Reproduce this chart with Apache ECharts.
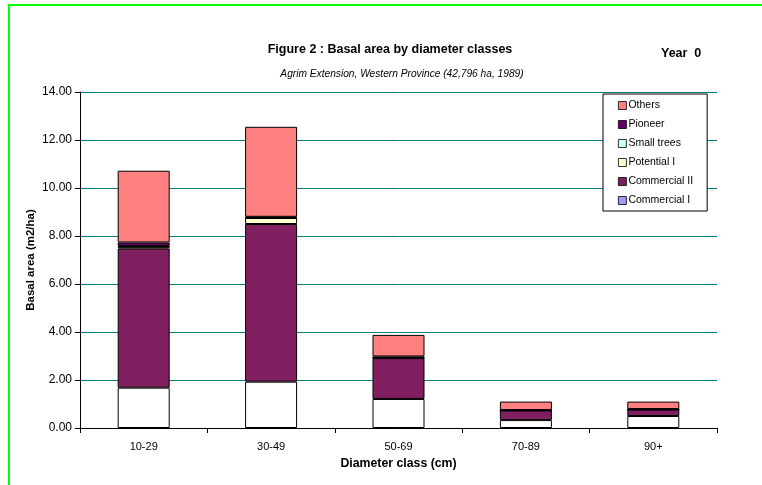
<!DOCTYPE html>
<html>
<head>
<meta charset="utf-8">
<script src="https://cdn.jsdelivr.net/npm/echarts@6/dist/echarts.min.js"></script>
<style>
  html, body { margin: 0; padding: 0; background: #fff; }
  #frame { position: absolute; left: 8px; top: 4px; width: 760px; height: 490px;
           border-left: 2px solid #00ff00; border-top: 2px solid #00ff00; box-sizing: border-box; }
  #chart { position: absolute; left: 0; top: 0; width: 762px; height: 485px; }
</style>
</head>
<body>
<div id="frame"></div>
<div id="chart"></div>
<script>
// Diameter classes (cm)
const categories = ['10-29', '30-49', '50-69', '70-89', '90+'];

// Basal area per species group (m2/ha), stacked bottom to top
const commercialI  = [1.68, 1.93, 1.21, 0.33, 0.50];
const commercialII = [5.80, 6.57, 1.70, 0.40, 0.27];
const potentialI   = [0.07, 0.25, 0.02, 0.00, 0.00];
const smallTrees   = [0.03, 0.02, 0.00, 0.00, 0.00];
const pioneer      = [0.15, 0.03, 0.05, 0.02, 0.02];
const others       = [2.99, 3.75, 0.90, 0.35, 0.31];

const legendOrder = ['Others', 'Pioneer', 'Small trees', 'Potential I', 'Commercial II', 'Commercial I'];

const FONT = '"Liberation Sans", Arial, sans-serif';

function stackSeries(name, data, fill) {
  return {
    name: name,
    type: 'bar',
    stack: 'basal',
    data: data,
    barWidth: 52,
    itemStyle: { color: fill, borderColor: '#000', borderWidth: 1 },
    emphasis: { disabled: true }
  };
}

const chart = echarts.init(document.getElementById('chart'), null, { renderer: 'canvas' });
chart.setOption({
  animation: false,
  backgroundColor: 'transparent',
  textStyle: { fontFamily: FONT },
  title: [
    { text: 'Figure 2 : Basal area by diameter classes', left: 385, top: 38, textAlign: 'center',
      textStyle: { fontFamily: FONT, fontSize: 12.5, fontWeight: 'bold', color: '#000' } },
    { text: 'Agrim Extension, Western Province (42,796 ha, 1989)', left: 397, top: 64, textAlign: 'center',
      textStyle: { fontFamily: FONT, fontSize: 10.2, fontStyle: 'italic', fontWeight: 'normal', color: '#000' } },
    { text: 'Year  0', left: 656, top: 42,
      textStyle: { fontFamily: FONT, fontSize: 12.5, fontWeight: 'bold', color: '#000' } }
  ],
  legend: {
    orient: 'vertical',
    left: 603,
    top: 94,
    icon: 'rect',
    itemWidth: 8,
    itemHeight: 8,
    itemGap: 8,
    padding: [6, 14, 5, 15],
    backgroundColor: '#fff',
    borderColor: '#000',
    borderWidth: 1,
    borderRadius: 0,
    itemStyle: { borderColor: '#000', borderWidth: 0.8 },
    textStyle: { fontFamily: FONT, fontSize: 10.5, color: '#000', lineHeight: 11, padding: [0, 0, 0, -3] },
    data: legendOrder.map(n => n === 'Commercial I'
      ? { name: n, itemStyle: { color: '#9999ff', borderColor: '#000', borderWidth: 0.8 } }
      : { name: n })
  },
  grid: { left: 80, right: 45, top: 92, bottom: 57, containLabel: false },
  xAxis: {
    type: 'category',
    data: categories,
    name: 'Diameter class (cm)',
    nameLocation: 'middle',
    nameGap: 30,
    nameTextStyle: { fontFamily: FONT, fontSize: 12.3, fontWeight: 'bold', color: '#000' },
    axisLine: { lineStyle: { color: '#000', width: 1 } },
    axisTick: { show: true, length: 5, lineStyle: { color: '#000' } },
    axisLabel: { fontFamily: FONT, fontSize: 11, color: '#000', margin: 13 }
  },
  yAxis: {
    type: 'value',
    min: 0,
    max: 14,
    interval: 2,
    name: 'Basal area (m2/ha)',
    nameLocation: 'middle',
    nameGap: 43,
    nameMoveOverlap: false,
    nameTextStyle: { fontFamily: FONT, fontSize: 11.5, fontWeight: 'bold', color: '#000' },
    axisLine: { show: true, lineStyle: { color: '#000', width: 1 } },
    axisTick: { show: true, length: 5, lineStyle: { color: '#000' } },
    axisLabel: { fontFamily: FONT, fontSize: 12, color: '#000', margin: 8,
                 formatter: v => v.toFixed(2) },
    splitLine: { show: true, lineStyle: { color: '#008080', width: 1 } }
  },
  series: [
    stackSeries('Commercial I', commercialI, '#ffffff'),
    stackSeries('Commercial II', commercialII, '#802060'),
    stackSeries('Potential I', potentialI, '#ffffcc'),
    stackSeries('Small trees', smallTrees, '#ccffff'),
    stackSeries('Pioneer', pioneer, '#660066'),
    stackSeries('Others', others, '#ff8080')
  ]
});
</script>
</body>
</html>
